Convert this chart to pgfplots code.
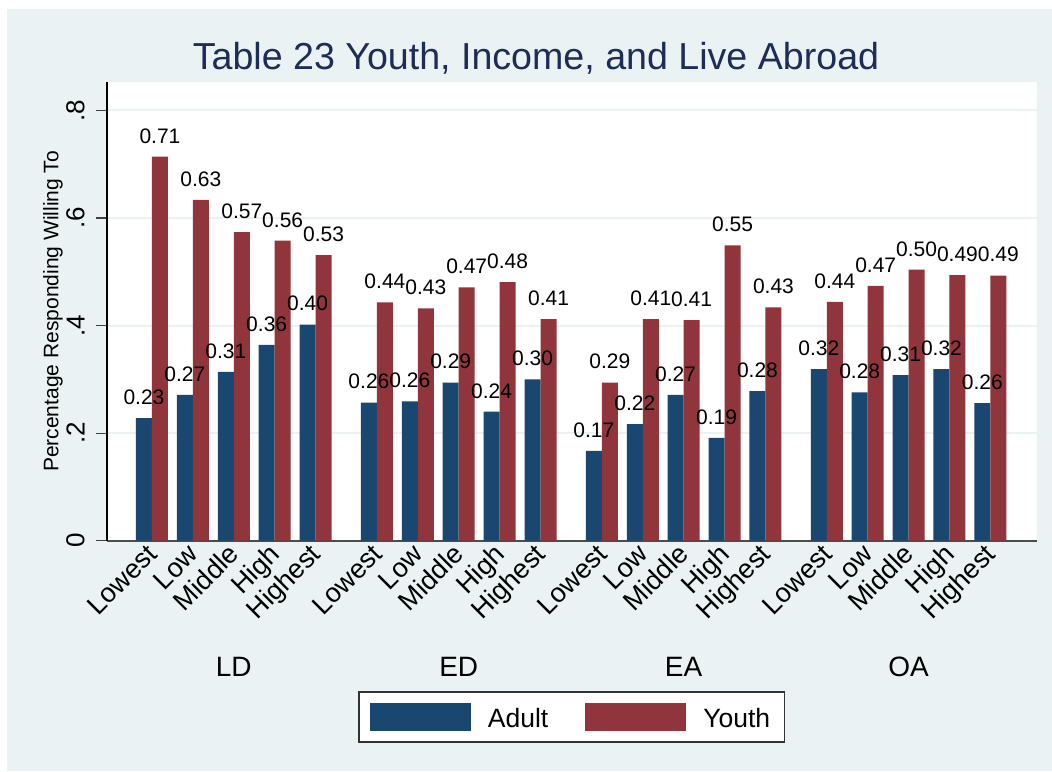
\documentclass[border=0pt]{standalone}
\usepackage{fontspec}
\setmainfont{Liberation Sans}
\usepackage{pgfplots}
\usepackage{pgfplotstable}
\pgfplotsset{compat=1.18}

\definecolor{stbg}{RGB}{234,242,243}
\definecolor{stnavy}{RGB}{26,71,111}
\definecolor{stmaroon}{RGB}{144,53,59}
\definecolor{sttitle}{RGB}{30,45,85}
\newcommand\fs[1]{\fontsize{#1}{#1}\selectfont}

% pos = bar pair position (groups LD, ED, EA, OA)
\pgfplotstableread{
pos  adult youth
0    0.228 0.714
1    0.271 0.634
2    0.314 0.574
3    0.364 0.558
4    0.402 0.531
5.5  0.257 0.443
6.5  0.259 0.432
7.5  0.294 0.471
8.5  0.240 0.481
9.5  0.300 0.412
11   0.167 0.294
12   0.217 0.412
13   0.271 0.410
14   0.191 0.549
15   0.278 0.434
16.5 0.319 0.444
17.5 0.276 0.474
18.5 0.308 0.504
19.5 0.319 0.494
20.5 0.256 0.493
}\willing

\begin{document}
\begin{tikzpicture}
\useasboundingbox (-53.5pt,-115.15pt) rectangle (472.5pt,270.35pt);
\fill[white] (-53.5pt,-115.15pt) rectangle (472.5pt,270.35pt);
\fill[stbg] (-50pt,-115.15pt) rectangle (472.5pt,265.85pt);
\begin{axis}[
  at={(0pt,0pt)}, anchor=south west,
  width=465pt, height=229.35pt, scale only axis,
  axis background/.style={fill=white},
  xmin=-1.10, xmax=21.64, ymin=0, ymax=0.853,
  ybar=0pt, bar width=8pt,
  clip=false,
  axis x line*=bottom, axis y line*=left,
  x axis line style={black!70, line width=0.8pt, -},
  y axis line style={black, line width=0.6pt, -},
  xtick=data,
  xticklabels={Lowest,Low,Middle,High,Highest,Lowest,Low,Middle,High,Highest,
               Lowest,Low,Middle,High,Highest,Lowest,Low,Middle,High,Highest},
  xticklabel style={font=\fs{13.5}, inner sep=0pt, anchor=base east,
                    xshift=3.5pt, yshift=-2pt, rotate=45},
  ytick={0,0.2,0.4,0.6,0.8},
  yticklabels={0,.2,.4,.6,.8},
  yticklabel style={font=\fs{13}, inner sep=0pt, anchor=south,
                    xshift=-5.5pt, rotate=90},
  ymajorgrids, major grid style={stbg, line width=1pt},
  tick align=outside, major tick length=5.5pt,
  xtick style={draw=none},
  ytick style={black!75, line width=0.6pt},
  ylabel={Percentage Responding Willing To},
  every axis y label/.style={at={(axis description cs:0,0.5)}, xshift=-27pt,
                             rotate=90, anchor=center, font=\fs{10.5}},
  nodes near coords={\pgfmathprintnumber[fixed,fixed zerofill,precision=2,assume math mode=true]{\pgfplotspointmeta}},
  every node near coord/.append style={font=\fs{10.5}, inner sep=0pt, anchor=south, yshift=6.5pt, black},
  legend columns=2,
  legend cell align=left,
  legend style={at={(0.4995,0)}, anchor=center, yshift=-88.15pt,
                draw=black!80, line width=0.6pt, fill=white,
                inner sep=0pt, column sep=0pt, row sep=0pt,
                font=\fs{13.25},
                nodes={inner sep=0pt, text height=0pt, text depth=0pt}},
]
\addplot[fill=stnavy, draw=none,
  legend image code/.code={
    \path[fill=none, draw=none] (0pt,-7.35pt) rectangle (64.5pt,17.65pt);
    \fill[stnavy] (5.5pt,-1.85pt) rectangle (56pt,12.15pt);}]
  table[x=pos, y=adult] {\willing};
\addplot[fill=stmaroon, draw=none,
  legend image code/.code={
    \path[fill=none, draw=none] (0pt,-7.35pt) rectangle (77.5pt,17.65pt);
    \fill[stmaroon] (18.5pt,-1.85pt) rectangle (69pt,12.15pt);}]
  table[x=pos, y=youth] {\willing};
\legend{Adult, Youth\rule{7pt}{0pt}}

\node[font=\fs{14}, anchor=base, yshift=-67.65pt] at (axis cs:2,0) {LD};
\node[font=\fs{14}, anchor=base, yshift=-67.65pt] at (axis cs:7.5,0) {ED};
\node[font=\fs{14}, anchor=base, yshift=-67.65pt] at (axis cs:13,0) {EA};
\node[font=\fs{14}, anchor=base, yshift=-67.65pt] at (axis cs:18.5,0) {OA};
\end{axis}
\node[anchor=base, font=\fs{18.8}, text=sttitle] at (214.5pt,235.35pt)
  {Table 23 Youth, Income, and Live Abroad};
\end{tikzpicture}
\end{document}
